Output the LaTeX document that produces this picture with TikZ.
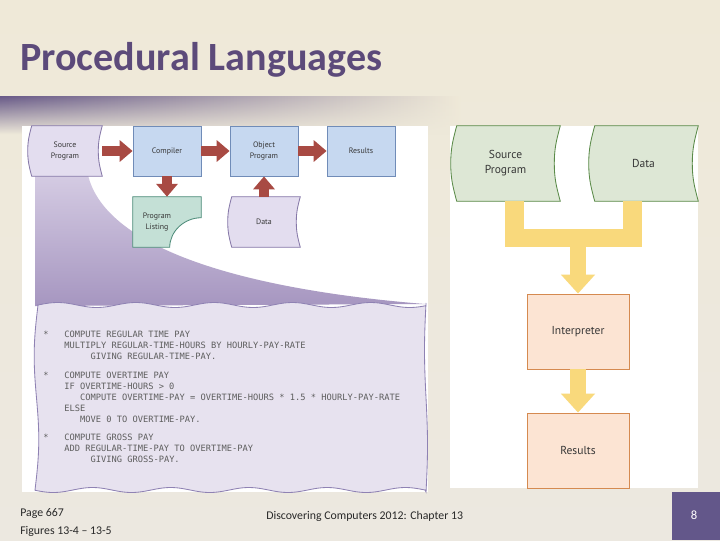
\documentclass[tikz,border=0pt]{standalone}
\usepackage{fontspec}
\setmainfont{Carlito}
\setmonofont{DejaVu Sans Mono}
\newfontfamily\figfont{PT Sans}
\usetikzlibrary{arrows.meta,calc,fadings}

\newlength{\px}\setlength{\px}{0.025cm}

\definecolor{cream}{RGB}{239,233,216}
\definecolor{creamlow}{RGB}{236,232,224}
\definecolor{bandpurple}{RGB}{104,90,136}
\definecolor{titlepurple}{RGB}{92,74,122}
\definecolor{bluefill}{RGB}{198,216,240}
\definecolor{blueline}{RGB}{112,140,184}
\definecolor{lavfill}{RGB}{227,221,239}
\definecolor{lavline}{RGB}{134,120,168}
\definecolor{greenfill}{RGB}{196,224,214}
\definecolor{greenline}{RGB}{78,140,122}
\definecolor{arrowred}{RGB}{168,74,67}
\definecolor{swtop}{RGB}{214,205,228}
\definecolor{swbot}{RGB}{166,150,192}
\definecolor{paperfill}{RGB}{231,226,239}
\definecolor{paperline}{RGB}{143,130,179}
\definecolor{codegray}{RGB}{94,94,94}
\definecolor{tapefill}{RGB}{221,231,213}
\definecolor{tapeline}{RGB}{90,138,72}
\definecolor{arrowyellow}{RGB}{249,217,124}
\definecolor{orfill}{RGB}{252,228,211}
\definecolor{orline}{RGB}{213,138,80}
\definecolor{labelgray}{RGB}{55,55,55}
\definecolor{footgray}{RGB}{40,40,40}
\definecolor{pagebox}{RGB}{99,87,138}

\pgfdeclarelayer{back}
\pgfsetlayers{back,main}
\tikzfading[name=fadedown, top color=transparent!0, bottom color=transparent!100]

% outline of a tape shape round a node: bulge, node, fill, line
\newcommand{\tapeoutline}[4]{%
  \path[fill=#3, draw=#4, line width=0.6pt]
    ([xshift=#1\px]#2.north west) to[out=-105,in=90] (#2.west)
    to[out=-90,in=105] ([xshift=#1\px]#2.south west) -- (#2.south east)
    to[out=105,in=-90] ([xshift=-#1\px]#2.east)
    to[out=90,in=-105] (#2.north east) -- cycle;}

\begin{document}
\begin{tikzpicture}[x=0.025cm, y=0.025cm,
  lbl/.style={font={\figfont\fontsize{5.6}{7.6}\selectfont}, text=labelgray,
              align=center, inner sep=0pt},
  lblB/.style={font={\figfont\fontsize{8.2}{10.6}\selectfont}, text=labelgray,
               align=center, inner sep=0pt},
  bluebox/.style={lbl, draw=blueline, fill=bluefill, line width=0.6pt,
                  minimum width=68\px, minimum height=50\px},
  lstbox/.style={minimum width=68\px, minimum height=50\px, inner sep=0pt},
  tapeA/.style={lbl, minimum width=74\px, minimum height=50\px},
  tapeB/.style={lblB, minimum width=109\px, minimum height=75\px},
  orbox/.style={lblB, draw=orline, fill=orfill, line width=0.6pt,
                minimum width=102\px, minimum height=75\px},
  redarr/.style={draw=arrowred, line width=7.1pt,
                 -{Triangle[length=9.2pt,width=15pt]}},
  ybar/.style={draw=arrowyellow, line width=13.5pt, line join=miter},
  yarr/.style={draw=arrowyellow, line width=10.7pt,
               -{Triangle[length=13.5pt,width=23.5pt]}},
  code/.style={font={\ttfamily\fontsize{6.2}{7.8}\selectfont}, text=codegray,
               align=left, anchor=north west, inner sep=0pt},
  foot/.style={font={\fontsize{8.4}{10}\selectfont}, text=footgray,
               anchor=base west, inner sep=0pt}
]
  \useasboundingbox (0,0) rectangle (720,-540);

  % slide background
  \begin{pgfonlayer}{back}
    \shade[top color=cream, bottom color=creamlow] (0,0) rectangle (720,-540);
    \shade[left color=bandpurple, right color=cream, path fading=fadedown]
      (0,-96) rectangle (460,-134);
    \fill[white] (22,-126) rectangle (428,-492);
    \fill[white] (450,-126) rectangle (698,-488);
    % swoosh down to the listing
    \shade[top color=swtop, bottom color=swbot]
      (35,-170) -- (87,-170) .. controls (100,-250) and (250,-290) .. (425,-304)
      -- (35,-306) -- cycle;
    % listing paper
    \path[fill=paperfill, draw=paperline, line width=0.6pt]
      plot[domain=38:426, samples=80, smooth] (\x, {-305+2.5*sin((\x-38)*4.6)})
      -- plot[domain=303:492, samples=30, smooth] ({426-1.5*sin((\x-303)*1.9)}, -\x)
      -- plot[domain=0:390, samples=80, smooth] ({425-\x}, {-490+2.5*sin(\x*4.6)})
      -- plot[domain=0:185, samples=30, smooth] ({35+0.016*\x+3*sin(\x*1.95)}, {-490+\x})
      -- cycle;
  \end{pgfonlayer}

  % title
  \node[anchor=base west, inner sep=0pt, text=titlepurple,
        font={\fontsize{28.5}{30}\selectfont\bfseries}] (title) at (20,-70)
        {Procedural Languages};

  % compiler
  \node[tapeA] (srcA) at (65,-151) {Source\\Program};
  \node[bluebox] (comp) at (167,-151) {Compiler};
  \node[bluebox] (obj) at (264,-151) {Object\\Program};
  \node[bluebox] (resA) at (361,-151) {Results};
  \node[lstbox] (listing) at (167,-222) {};
  \node[lbl] (listtxt) at ([xshift=-10\px]listing.center) {Program\\Listing};
  \node[tapeA, minimum width=72\px] (dataA) at (264,-222) {Data};

  \begin{pgfonlayer}{back}
    \tapeoutline{4}{srcA}{lavfill}{lavline}
    \tapeoutline{4}{dataA}{lavfill}{lavline}
    \path[fill=greenfill, draw=greenline, line width=0.6pt]
      (listing.north west) -- (listing.north east) -- ([yshift=-21\px]listing.north east)
      .. controls +(-17,0) and +(0,16) .. ([xshift=37\px]listing.south west)
      -- (listing.south west) -- cycle;
  \end{pgfonlayer}

  \draw[redarr] (srcA) -- (comp);
  \draw[redarr] (comp) -- (obj);
  \draw[redarr] (obj) -- (resA);
  \draw[redarr] (comp) -- (listing);
  \draw[redarr] (dataA) -- (obj);

  % listing text
  \node[code] (codeA) at (43,-331)
    {*\hphantom{000}COMPUTE REGULAR TIME PAY\\
     \hphantom{0000}MULTIPLY REGULAR-TIME-HOURS BY HOURLY-PAY-RATE\\
     \hphantom{000000000}GIVING REGULAR-TIME-PAY.};
  \node[code] (codeB) at (43,-372)
    {*\hphantom{000}COMPUTE OVERTIME PAY\\
     \hphantom{0000}IF OVERTIME-HOURS > 0\\
     \hphantom{0000000}COMPUTE OVERTIME-PAY = OVERTIME-HOURS * 1.5 * HOURLY-PAY-RATE\\
     \hphantom{0000}ELSE\\
     \hphantom{0000000}MOVE 0 TO OVERTIME-PAY.};
  \node[code] (codeC) at (43,-434)
    {*\hphantom{000}COMPUTE GROSS PAY\\
     \hphantom{0000}ADD REGULAR-TIME-PAY TO OVERTIME-PAY\\
     \hphantom{000000000}GIVING GROSS-PAY.};

  % interpreter
  \node[tapeB] (srcB) at (505.5,-163.5) {Source\\Program};
  \node[tapeB] (dataB) at (643.5,-163.5) {Data};
  \node[orbox] (interp) at (578,-331.5) {Interpreter};
  \node[orbox] (resB) at (578,-450.5) {Results};
  \coordinate (join) at (578,-238);

  \begin{pgfonlayer}{back}
    \tapeoutline{6}{srcB}{tapefill}{tapeline}
    \tapeoutline{6}{dataB}{tapefill}{tapeline}
  \end{pgfonlayer}

  \draw[ybar] ([xshift=9\px]srcB.south) -- ([xshift=9\px]srcB.south |- join)
    -- ([xshift=-11.5\px]dataB.south |- join) -- ([xshift=-11.5\px]dataB.south);
  \draw[yarr] (join) -- (interp);
  \draw[yarr, line width=12pt] (interp) -- (resB);

  % footer
  \node[foot] (page) at (20,-516) {Page 667};
  \node[foot] (figs) at (20,-534) {Figures 13-4 – 13-5};
  \node[foot] (chap) at (266,-519) {Discovering Computers 2012: Chapter 13};
  \fill[pagebox] (672,-492) rectangle (720,-540);
  \node[text=white, font={\fontsize{9}{11}\selectfont}] (pgnum) at (694,-515) {8};
\end{tikzpicture}
\end{document}
